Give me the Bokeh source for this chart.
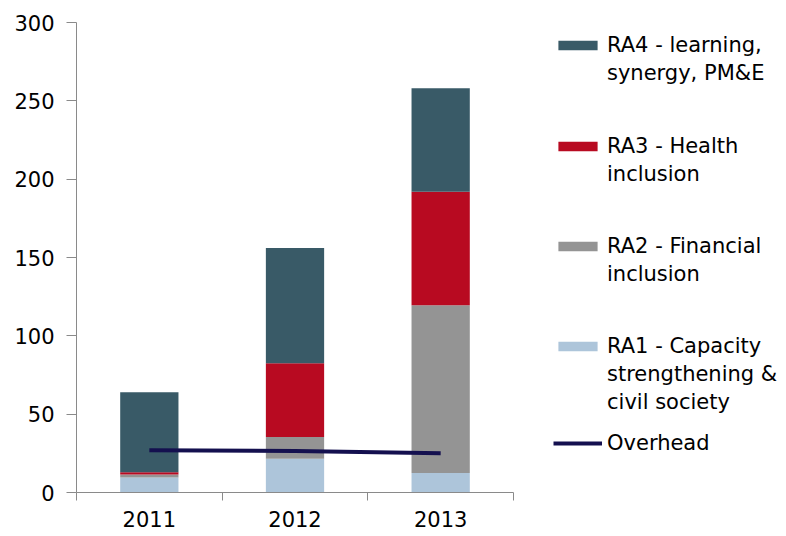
import numpy as np
from bokeh.plotting import figure
from bokeh.models import (Range1d, FixedTicker, Legend, LegendItem,
                          ColumnDataSource)
from bokeh.embed import file_html
from bokeh.resources import INLINE

# ---- data ----
years = ["2011", "2012", "2013"]
ra1 = [9.5, 21.5, 12.5]      # RA1 - Capacity strengthening & civil society
ra2 = [2.0, 14.0, 107.0]     # RA2 - Financial inclusion
ra3 = [1.5, 47.0, 72.5]      # RA3 - Health inclusion
ra4 = [51.0, 73.5, 66.0]     # RA4 - learning, synergy, PM&E
overhead = [27.0, 26.5, 25.0]
y_ticks = [0, 50, 100, 150, 200, 250, 300]

legend_ra4 = ["RA4 - learning,", "synergy, PM&E"]
legend_ra3 = ["RA3 - Health", "inclusion"]
legend_ra2 = ["RA2 - Financial", "inclusion"]
legend_ra1 = ["RA1 - Capacity", "strengthening &", "civil society"]
legend_oh = ["Overhead"]

# ---- styles ----
C_RA1 = "#adc5da"
C_RA2 = "#949494"
C_RA3 = "#b80a21"
C_RA4 = "#395a67"
C_OH = "#14104f"
AXIS = "#8a8a8a"
FONT = "DejaVu Sans"

n = len(years)
centers = [i + 0.5 for i in range(n)]
bounds = [float(i) for i in range(n + 1)]

# the frame also spans the legend area; the axis only covers the categories
CAT_PX = 437 / 3.0
FRAME_W = 710
x_end = FRAME_W / CAT_PX

source = ColumnDataSource(dict(x=centers, ra1=ra1, ra2=ra2, ra3=ra3, ra4=ra4,
                               overhead=overhead))

p = figure(frame_width=FRAME_W, frame_height=470,
           min_border_left=76, min_border_top=22, min_border_right=0,
           min_border_bottom=44,
           x_range=Range1d(0, x_end), y_range=Range1d(0, 300),
           output_backend="svg", toolbar_location=None,
           background_fill_color="white", border_fill_color="white")

bars = p.vbar_stack(["ra1", "ra2", "ra3", "ra4"], x="x", width=0.4,
                    color=[C_RA1, C_RA2, C_RA3, C_RA4], line_color=None,
                    source=source)
oh_line = p.line("x", "overhead", source=source, line_color=C_OH,
                 line_width=4)

# axes
p.xgrid.visible = False
p.ygrid.visible = False
p.outline_line_color = None

xa = p.xaxis[0]
xa.bounds = (0, n)
xa.ticker = FixedTicker(ticks=centers, minor_ticks=bounds)
xa.major_label_overrides = {c: y for c, y in zip(centers, years)}
xa.major_tick_out = 0
xa.major_tick_in = 0
xa.minor_tick_out = 8
xa.minor_tick_in = 0
xa.minor_tick_line_color = AXIS
xa.axis_line_color = AXIS
xa.major_label_standoff = 10
xa.major_label_text_font = FONT
xa.major_label_text_font_size = "21px"
xa.major_label_text_color = "#000000"

ya = p.yaxis[0]
ya.ticker = FixedTicker(ticks=y_ticks)
ya.major_tick_out = 10
ya.major_tick_in = 0
ya.minor_tick_line_color = None
ya.major_tick_line_color = AXIS
ya.axis_line_color = AXIS
ya.major_label_standoff = 12
ya.major_label_text_font = FONT
ya.major_label_text_font_size = "21px"
ya.major_label_text_color = "#000000"


def add_legend(lines, renderer, loc):
    items = [LegendItem(label=lines[0], renderers=[renderer])]
    items += [LegendItem(label=t, renderers=[]) for t in lines[1:]]
    lg = Legend(items=items, location=loc, orientation="vertical",
                border_line_color=None, background_fill_alpha=0,
                padding=0, margin=0, spacing=0, label_standoff=5,
                glyph_width=49, glyph_height=12, label_height=28,
                label_text_font=FONT, label_text_font_size="21px",
                label_text_color="#000000")
    p.add_layout(lg)


add_legend(legend_ra4, bars[3], (477, 405))
add_legend(legend_ra3, bars[2], (477, 304))
add_legend(legend_ra2, bars[1], (477, 204))
add_legend(legend_ra1, bars[0], (477, 76))
add_legend(legend_oh, oh_line, (477, 35))

open("out.html", "w").write(file_html(p, INLINE))
